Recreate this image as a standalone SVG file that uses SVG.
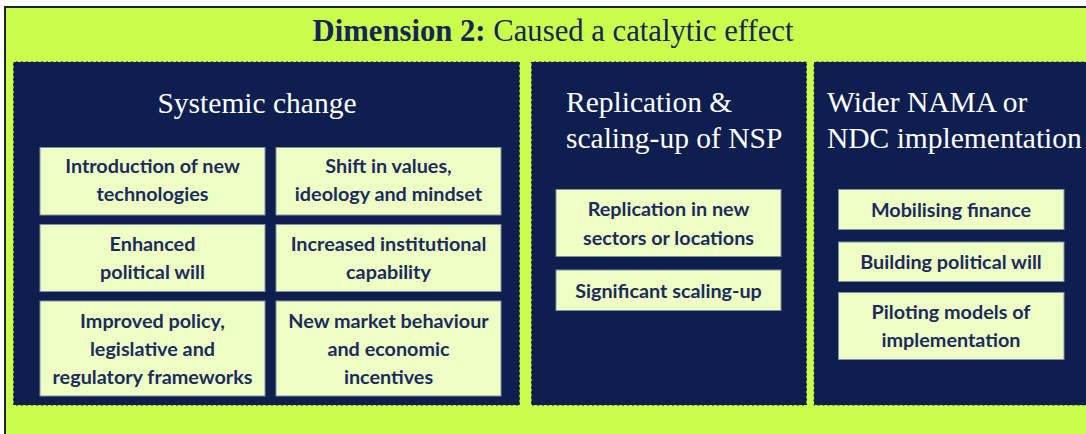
<svg xmlns="http://www.w3.org/2000/svg" width="1086" height="434" viewBox="0 0 1086 434">
<style>
.bg{fill:#c9ff4c;}
.panel{fill:#0e1f4f;stroke:#c9ff4c;stroke-width:1.2;stroke-dasharray:3 2;}
.box{fill:#eeffc6;stroke:#7f8fa3;stroke-width:1;}
.bt{font-family:Lato,"Open Sans",sans-serif;font-weight:bold;font-size:19.8px;fill:#1c2b5c;text-anchor:middle;}
.pt{font-family:"Liberation Serif","DejaVu Serif",serif;font-size:29.5px;fill:#ffffff;}
.title{font-family:"Liberation Serif","DejaVu Serif",serif;font-size:30.7px;fill:#16245a;text-anchor:middle;}
</style>
<rect x="0" y="0" width="1086" height="434" fill="#ffffff"/>
<rect class="bg" x="5" y="7" width="1081" height="427"/>
<path d="M5 434 V7 H1086" fill="none" stroke="#1a2636" stroke-width="2"/>
<g id="title">
<text class="title" x="553" y="41"><tspan font-weight="bold">Dimension 2:</tspan> Caused a catalytic effect</text>
</g>
<g id="panel-systemic">
<rect class="panel" x="13" y="61.5" width="507" height="344"/>
<text class="pt" x="257" y="113" text-anchor="middle">Systemic change</text>
</g>
<g id="panel-replication">
<rect class="panel" x="531" y="61.5" width="276" height="344"/>
<text class="pt" x="566" y="111.5">Replication &amp;</text>
<text class="pt" x="566" y="147.5">scaling-up of NSP</text>
</g>
<g id="panel-nama">
<rect class="panel" x="813.5" y="61.5" width="280" height="344"/>
<text class="pt" x="827" y="111.5">Wider NAMA or</text>
<text class="pt" x="827" y="147.5">NDC implementation</text>
</g>
<g id="node-tech">
<rect class="box" x="40" y="147.5" width="225" height="67.5"/>
<text class="bt" x="152.5" y="173">Introduction of new</text>
<text class="bt" x="152.5" y="201">technologies</text>
</g>
<g id="node-values">
<rect class="box" x="276" y="147.5" width="225" height="67.5"/>
<text class="bt" x="388.5" y="173">Shift in values,</text>
<text class="bt" x="388.5" y="201">ideology and mindset</text>
</g>
<g id="node-political">
<rect class="box" x="40" y="224.5" width="225" height="67"/>
<text class="bt" x="152.5" y="250.5">Enhanced</text>
<text class="bt" x="152.5" y="278.5">political will</text>
</g>
<g id="node-institutional">
<rect class="box" x="276" y="224.5" width="225" height="67"/>
<text class="bt" x="388.5" y="250.5">Increased institutional</text>
<text class="bt" x="388.5" y="278.5">capability</text>
</g>
<g id="node-policy">
<rect class="box" x="40" y="301" width="225" height="95"/>
<text class="bt" x="152.5" y="328">Improved policy,</text>
<text class="bt" x="152.5" y="355.5">legislative and</text>
<text class="bt" x="152.5" y="383.5">regulatory frameworks</text>
</g>
<g id="node-market">
<rect class="box" x="276" y="301" width="225" height="95"/>
<text class="bt" x="388.5" y="328">New market behaviour</text>
<text class="bt" x="388.5" y="355.5">and economic</text>
<text class="bt" x="388.5" y="383.5">incentives</text>
</g>
<g id="node-replication">
<rect class="box" x="556" y="189.5" width="225" height="67"/>
<text class="bt" x="668.5" y="216">Replication in new</text>
<text class="bt" x="668.5" y="244.5">sectors or locations</text>
</g>
<g id="node-scaling">
<rect class="box" x="556" y="270" width="225" height="40.5"/>
<text class="bt" x="668.5" y="298">Significant scaling-up</text>
</g>
<g id="node-finance">
<rect class="box" x="838.5" y="189.5" width="225.5" height="40"/>
<text class="bt" x="951" y="217">Mobilising finance</text>
</g>
<g id="node-will">
<rect class="box" x="838.5" y="242" width="225.5" height="39.5"/>
<text class="bt" x="951" y="268.5">Building political will</text>
</g>
<g id="node-piloting">
<rect class="box" x="838.5" y="292.5" width="225.5" height="67"/>
<text class="bt" x="951" y="319">Piloting models of</text>
<text class="bt" x="951" y="347">implementation</text>
</g>
<g id="connectors"></g>
</svg>
